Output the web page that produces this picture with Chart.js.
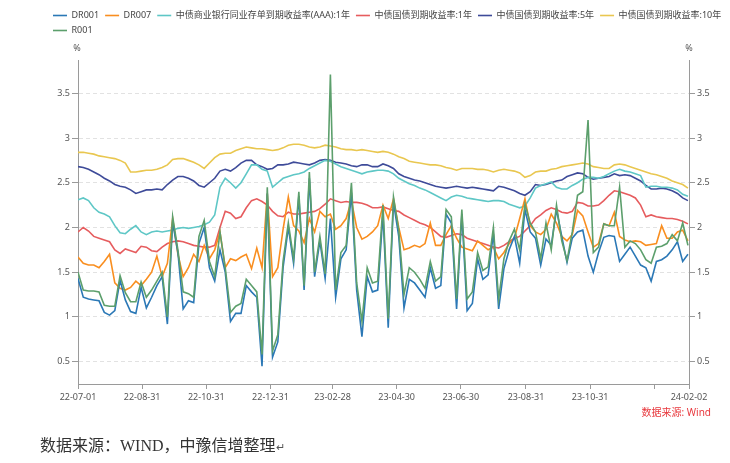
<!DOCTYPE html>
<html><head><meta charset="utf-8">
<script src="https://cdn.jsdelivr.net/npm/chart.js@4.4.1/dist/chart.umd.min.js"></script>
<style>
html,body{margin:0;padding:0;background:#fff;}
#wrap{position:relative;width:730px;height:463px;overflow:hidden;}
#c{position:absolute;left:0;top:0;}
#src{position:absolute;right:19px;top:405px;line-height:14px;font-size:10px;font-family:"Noto Sans","Noto Sans CJK SC",sans-serif;color:#e8383d;white-space:nowrap;}
#cap{position:absolute;left:40px;top:436px;line-height:20px;font-size:16px;font-family:"Liberation Serif","Noto Sans CJK SC",serif;color:#333;white-space:nowrap;}
</style></head>
<body><div id="wrap"><canvas id="c" width="730" height="463"></canvas>
<div id="src">数据来源: Wind</div>
<div id="cap">数据来源：WIND，中豫信增整理<span style="font-size:11px;color:#555">↵</span></div></div>
<script>
// ---- data (one sample every 5 calendar days from 2022-07-01) ----
const startDate = '2022-07-01';
const stepDays = 5;
const seriesNames = ['DR001','DR007','中债商业银行同业存单到期收益率(AAA):1年','中债国债到期收益率:1年','中债国债到期收益率:5年','中债国债到期收益率:10年','R001'];

const dr001 = [1.43,1.22,1.20,1.19,1.18,1.05,1.02,1.07,1.41,1.19,
1.06,1.04,1.33,1.10,1.22,1.35,1.45,0.92,2.06,1.72,
1.09,1.18,1.16,1.82,2.00,1.55,1.40,1.75,1.50,
0.95,1.04,1.04,1.35,1.28,1.22,0.45,2.38,0.55,0.72,
1.55,2.00,1.60,2.35,1.30,2.55,1.45,1.85,1.43,2.10,
1.22,1.65,1.75,2.39,1.30,0.78,1.45,1.28,1.30,
2.15,0.88,2.28,1.90,1.10,1.42,1.38,1.30,1.22,1.55,
1.32,1.35,2.15,2.05,1.09,2.15,1.07,1.15,1.65,1.42,
1.47,1.93,1.09,1.54,1.75,1.90,1.60,2.20,1.95,1.88,
1.58,1.87,1.80,2.20,1.90,1.61,1.88,1.95,1.97,1.68,
1.50,1.72,1.89,1.91,1.90,1.62,1.70,1.78,1.68,1.58,
1.55,1.40,1.62,1.64,1.68,1.75,1.84,1.62,1.70];

const dr007 = [1.67,1.60,1.58,1.58,1.55,1.62,1.70,1.38,1.32,1.30,
1.33,1.40,1.35,1.42,1.50,1.68,1.45,1.60,2.10,1.70,
1.45,1.55,1.70,1.62,1.80,1.65,1.75,1.95,1.55,
1.65,1.63,1.67,1.70,1.54,1.77,1.55,2.38,1.45,1.55,
1.98,2.34,2.02,1.96,1.83,2.10,1.95,2.18,2.12,2.15,
1.98,2.02,2.10,2.30,2.00,1.87,1.90,1.95,2.02,
2.25,2.10,2.32,2.00,1.75,1.77,1.80,1.78,1.82,2.05,
1.80,1.80,1.92,2.02,1.88,1.78,1.76,1.74,1.85,1.80,
1.75,1.78,1.65,1.72,1.82,1.88,2.10,2.32,2.02,1.95,
1.92,1.98,2.15,2.05,1.90,1.85,1.92,2.19,2.13,1.95,
1.78,1.82,2.04,2.02,2.17,1.90,1.86,1.84,1.85,1.84,
1.80,1.81,1.82,2.02,1.88,1.88,1.95,1.97,1.85];

const cdAAA1y = [2.31,2.33,2.30,2.22,2.17,2.15,2.12,2.02,1.94,1.93,
1.98,2.02,1.95,1.92,1.95,1.96,1.95,1.96,1.97,1.99,
2.00,1.99,2.00,2.01,2.03,2.06,2.14,2.45,2.55,
2.50,2.44,2.50,2.60,2.70,2.70,2.65,2.63,2.45,2.50,
2.55,2.57,2.59,2.60,2.62,2.66,2.69,2.72,2.75,2.74,
2.71,2.68,2.66,2.64,2.62,2.60,2.62,2.63,2.64,
2.64,2.63,2.60,2.55,2.52,2.49,2.47,2.44,2.42,2.39,
2.36,2.33,2.30,2.34,2.36,2.35,2.33,2.32,2.31,2.30,
2.29,2.30,2.30,2.29,2.26,2.24,2.22,2.24,2.33,2.44,
2.47,2.49,2.51,2.45,2.43,2.43,2.47,2.50,2.54,2.56,
2.56,2.55,2.57,2.60,2.63,2.65,2.63,2.62,2.60,2.58,
2.45,2.46,2.46,2.45,2.45,2.44,2.42,2.37,2.35];

const gov1y = [1.95,2.00,1.96,1.90,1.88,1.86,1.84,1.75,1.71,1.76,
1.74,1.72,1.79,1.78,1.74,1.73,1.78,1.82,1.84,1.85,
1.84,1.82,1.80,1.79,1.78,1.78,1.80,2.00,2.18,
2.16,2.10,2.12,2.22,2.30,2.32,2.29,2.25,2.18,2.13,
2.12,2.17,2.15,2.15,2.16,2.17,2.18,2.21,2.26,2.32,
2.30,2.28,2.29,2.28,2.28,2.27,2.25,2.22,2.22,
2.23,2.21,2.19,2.18,2.14,2.11,2.08,2.05,2.03,2.00,
1.95,1.90,1.89,1.91,1.93,1.92,1.88,1.86,1.84,1.82,
1.80,1.78,1.77,1.80,1.84,1.88,1.90,1.96,2.02,2.10,
2.14,2.19,2.22,2.20,2.17,2.16,2.18,2.28,2.27,2.24,
2.24,2.25,2.30,2.36,2.41,2.40,2.38,2.36,2.33,2.25,
2.12,2.14,2.12,2.11,2.10,2.10,2.09,2.07,2.04];

const gov5y = [2.68,2.67,2.65,2.62,2.59,2.55,2.52,2.48,2.46,2.45,
2.42,2.38,2.40,2.42,2.42,2.43,2.42,2.48,2.53,2.57,
2.57,2.55,2.52,2.47,2.45,2.50,2.55,2.63,2.65,
2.63,2.67,2.72,2.75,2.75,2.70,2.68,2.65,2.66,2.70,
2.70,2.71,2.73,2.72,2.71,2.70,2.72,2.75,2.76,2.75,
2.73,2.72,2.71,2.69,2.68,2.70,2.70,2.68,2.68,
2.71,2.69,2.66,2.60,2.57,2.55,2.53,2.52,2.50,2.48,
2.46,2.45,2.44,2.45,2.46,2.45,2.44,2.45,2.44,2.43,
2.42,2.41,2.46,2.45,2.43,2.41,2.38,2.36,2.40,2.48,
2.47,2.48,2.50,2.52,2.53,2.57,2.59,2.61,2.60,2.56,
2.54,2.55,2.56,2.57,2.60,2.58,2.59,2.58,2.55,2.52,
2.47,2.43,2.43,2.44,2.43,2.41,2.38,2.33,2.30];

const gov10y = [2.84,2.84,2.83,2.82,2.80,2.79,2.78,2.77,2.75,2.72,
2.62,2.62,2.63,2.64,2.64,2.65,2.67,2.70,2.76,2.77,
2.77,2.75,2.73,2.70,2.66,2.72,2.78,2.82,2.83,
2.83,2.86,2.88,2.90,2.89,2.88,2.88,2.87,2.86,2.87,
2.89,2.92,2.93,2.93,2.92,2.90,2.89,2.90,2.92,2.91,
2.90,2.88,2.87,2.87,2.86,2.87,2.86,2.85,2.84,
2.85,2.84,2.82,2.79,2.77,2.74,2.73,2.72,2.71,2.70,
2.70,2.69,2.67,2.66,2.64,2.66,2.66,2.66,2.65,2.65,
2.64,2.62,2.64,2.65,2.64,2.63,2.61,2.56,2.58,2.62,
2.63,2.63,2.65,2.66,2.68,2.69,2.70,2.71,2.72,2.71,
2.68,2.67,2.66,2.66,2.70,2.71,2.70,2.68,2.66,2.64,
2.62,2.60,2.59,2.57,2.55,2.52,2.50,2.48,2.44];

const r001 = [1.50,1.30,1.29,1.29,1.28,1.13,1.12,1.12,1.46,1.27,
1.17,1.17,1.39,1.22,1.30,1.40,1.50,1.00,2.12,1.75,
1.28,1.26,1.22,1.90,2.08,1.62,1.45,1.95,1.55,
1.05,1.12,1.15,1.42,1.35,1.28,0.58,2.45,0.62,0.80,
1.62,2.05,1.65,2.40,1.35,2.62,1.50,1.90,1.48,3.71,
1.30,1.72,1.80,2.50,1.38,0.95,1.55,1.38,1.40,
2.25,0.98,2.34,1.97,1.25,1.55,1.50,1.42,1.32,1.62,
1.40,1.45,2.20,2.12,1.20,2.20,1.20,1.28,1.72,1.52,
1.56,2.00,1.20,1.65,1.85,1.98,1.75,2.26,2.05,1.95,
1.65,2.05,1.75,2.25,1.85,1.63,1.95,2.36,2.40,3.20,
1.72,1.78,2.04,2.02,2.02,2.45,1.78,1.85,1.82,1.75,
1.64,1.60,1.78,1.79,1.82,1.92,1.85,2.05,1.80];

const tickDates = ['2022-07-01','2022-08-31','2022-10-31','2022-12-31','2023-02-28','2023-04-30','2023-06-30','2023-08-31','2023-10-31','2023-12-31','2024-02-02'];
const tickLabels = ['22-07-01','22-08-31','22-10-31','22-12-31','23-02-28','23-04-30','23-06-30','23-08-31','23-10-31','','24-02-02'];
const yTicks = [0.5,1,1.5,2,2.5,3,3.5];

// ---- helpers ----
const DAY = 86400000;
const t0 = Date.parse(startDate + 'T00:00:00Z');
const dayOf = s => Math.round((Date.parse(s + 'T00:00:00Z') - t0) / DAY);
const dates = dr001.map((_, i) => new Date(t0 + i * stepDays * DAY).toISOString().slice(0, 10));
const xs = dates.map(dayOf);
const tickDays = tickDates.map(dayOf);
const pts = arr => arr.map((v, i) => ({x: xs[i], y: v}));

const colors = ['#2b78b6','#f98e1f','#5ec7c6','#e65c5e','#3e4b99','#e9c750','#5c9f6c'];
const values = [dr001, dr007, cdAAA1y, gov1y, gov5y, gov10y, r001];
const drawOrder = [1, 2, 3, 4, 5, 6, 0];

Chart.defaults.font.family = '"Noto Sans","Noto Sans CJK SC",sans-serif';
Chart.defaults.font.size = 9;
Chart.defaults.color = '#555';

const pctPlugin = {
  id: 'pct',
  afterDraw(chart) {
    const {ctx, scales} = chart;
    ctx.save();
    ctx.font = '9px "Noto Sans",sans-serif';
    ctx.fillStyle = '#555';
    ctx.textAlign = 'center';
    ctx.textBaseline = 'middle';
    ctx.fillText('%', scales.y.right - 1, 48);
    ctx.fillText('%', scales.y2.left, 48);
    ctx.restore();
  }
};

const yCommon = {
  min: 0.25, max: 3.87,
  afterBuildTicks: s => { s.ticks = yTicks.map(v => ({value: v})); },
  ticks: { callback: v => String(v), color: '#555', padding: 2 }
};

new Chart(document.getElementById('c'), {
  type: 'line',
  data: {
    datasets: seriesNames.map((name, k) => ({
      label: name,
      data: pts(values[k]),
      borderColor: colors[k],
      backgroundColor: colors[k],
      borderWidth: 1.6,
      pointRadius: 0,
      tension: 0,
      order: drawOrder[k],
      yAxisID: 'y'
    }))
  },
  options: {
    responsive: false,
    animation: false,
    devicePixelRatio: 1,
    layout: { padding: { left: 47, right: 0, top: 5, bottom: 49 } },
    plugins: {
      tooltip: { enabled: false },
      legend: {
        position: 'top', align: 'start',
        labels: {
          usePointStyle: true, pointStyle: 'line', pointStyleWidth: 14,
          padding: 6, color: '#444', font: { size: 9 },
          sort: (a, b) => a.datasetIndex - b.datasetIndex
        }
      },
      subtitle: { display: true, text: '', weight: 500, font: { size: 1 }, padding: { top: 0, bottom: 14 } }
    },
    scales: {
      x: {
        type: 'linear', min: 0, max: tickDays[tickDays.length - 1],
        afterBuildTicks: s => { s.ticks = tickDays.map(v => ({value: v})); },
        ticks: { autoSkip: false, maxRotation: 0, minRotation: 0, padding: 3, color: '#555',
          callback: (v, i) => tickLabels[i] },
        grid: { drawOnChartArea: false, drawTicks: true, tickLength: 5, color: '#9a9a9a' },
        border: { color: '#9a9a9a' },
        afterFit: s => { s.height = 30; }
      },
      y: Object.assign({}, yCommon, {
        position: 'left',
        grid: { color: '#e2e2e2', tickColor: '#9a9a9a', tickLength: 6 },
        border: { color: '#9a9a9a', dash: [4, 3] },
        afterFit: s => { s.width = 31; }
      }),
      y2: Object.assign({}, yCommon, {
        position: 'right',
        grid: { drawOnChartArea: false, tickColor: '#9a9a9a', tickLength: 6 },
        border: { color: '#9a9a9a' },
        afterFit: s => { s.width = 41; }
      })
    }
  },
  plugins: [pctPlugin]
});
</script>
</body></html>
